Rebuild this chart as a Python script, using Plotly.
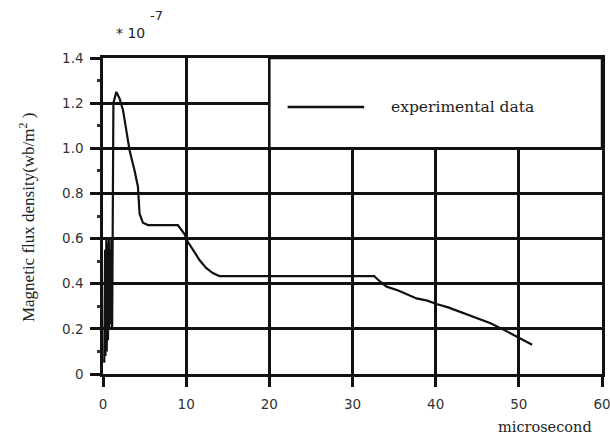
import plotly.graph_objects as go

# ---- data ----
time_us = [0.15, 0.25, 0.3, 0.4, 0.45, 0.55, 0.6, 0.7, 0.75, 0.85, 0.9, 1.0, 1.1,
           1.15, 1.25, 1.6, 2.0, 2.4, 2.8, 3.2, 3.8, 4.2, 4.4, 4.8, 5.4, 7.0,
           9.0, 9.8, 10.2, 11.0, 11.6, 12.4, 13.2, 14.0, 20.0, 26.0, 32.6, 33.3,
           34.1, 35.5, 37.7, 39.0, 40.1, 41.5, 42.6, 44.5, 46.6, 48.5, 50.0, 51.6]
flux = [0.05, 0.55, 0.08, 0.6, 0.1, 0.58, 0.15, 0.6, 0.2, 0.55, 0.22, 0.6, 0.2,
        0.7, 1.2, 1.25, 1.22, 1.17, 1.08, 0.99, 0.90, 0.83, 0.71, 0.67, 0.66, 0.66,
        0.66, 0.62, 0.586, 0.54, 0.505, 0.47, 0.447, 0.434, 0.434, 0.434, 0.434, 0.41,
        0.387, 0.37, 0.335, 0.325, 0.31, 0.295, 0.28, 0.255, 0.225, 0.19, 0.16, 0.13]

x_ticks = [0, 10, 20, 30, 40, 50, 60]
x_tick_labels = ["0", "10", "20", "30", "40", "50", "60"]
y_ticks = [0, 0.2, 0.4, 0.6, 0.8, 1.0, 1.2, 1.4]
y_tick_labels = ["0", "0.2", "0.4", "0.6", "0.8", "1.0", "1.2", "1.4"]

series_name = "experimental data"
legend_box_x = [20, 60]
legend_box_y = [1.0, 1.4]
legend_line_x = [22.2, 31.4]
legend_y = 1.183
legend_text_x = 34.4

fig = go.Figure()
fig.add_trace(go.Scatter(x=time_us, y=flux, mode="lines", name=series_name,
                         line=dict(color="#111", width=2.2), showlegend=False))

# legend box (white panel over the grid) and sample line
fig.add_shape(type="rect", xref="x", yref="y",
              x0=legend_box_x[0], x1=legend_box_x[1], y0=legend_box_y[0], y1=legend_box_y[1],
              fillcolor="white", line=dict(color="#111", width=2.5), layer="above")
fig.add_shape(type="line", xref="x", yref="y",
              x0=legend_line_x[0], x1=legend_line_x[1], y0=legend_y, y1=legend_y,
              line=dict(color="#111", width=2.5), layer="above")
fig.add_annotation(x=legend_text_x, y=legend_y, xref="x", yref="y", text=series_name,
                   showarrow=False, xanchor="left", yanchor="middle",
                   font=dict(family="DejaVu Serif", size=15.5, color="#222"))

axis_common = dict(showline=True, linecolor="#111", linewidth=2.5, mirror=True,
                   showgrid=True, gridcolor="#111", gridwidth=2.5, zeroline=False,
                   ticks="outside", ticklen=10, tickwidth=2.5, tickcolor="#111",
                   automargin=False, ticklabeloverflow="allow",
                   tickfont=dict(family="DejaVu Sans", size=13.5, color="#333"))

fig.update_xaxes(range=[0, 60], tickmode="array", tickvals=x_ticks, ticktext=x_tick_labels,
                 ticklabelstandoff=6, **axis_common)
fig.update_yaxes(range=[0, 1.4], tickmode="array", tickvals=y_ticks, ticktext=y_tick_labels,
                 ticklabelstandoff=4,
                 minor=dict(ticks="outside", dtick=0.1, ticklen=3, tickcolor="#333", showgrid=False),
                 **axis_common)

# axis titles and multiplier
fig.add_annotation(xref="paper", yref="paper", x=-0.152, y=0.494, textangle=-90,
                   text="Magnetic flux density(wb/m<sup>2</sup> )", showarrow=False,
                   xanchor="center", yanchor="middle",
                   font=dict(family="Liberation Serif", size=17, color="#222"))
fig.add_annotation(xref="paper", yref="paper", x=0.886, y=-0.168,
                   text="microsecond", showarrow=False, xanchor="center", yanchor="middle",
                   font=dict(family="DejaVu Serif", size=14.5, color="#222"))
fig.add_annotation(xref="paper", yref="paper", x=0.055, y=1.079,
                   text="* 10", showarrow=False, xanchor="center", yanchor="middle",
                   font=dict(family="DejaVu Sans", size=14, color="#222"))
fig.add_annotation(xref="paper", yref="paper", x=0.107, y=1.136,
                   text="-7", showarrow=False, xanchor="center", yanchor="middle",
                   font=dict(family="DejaVu Sans", size=13, color="#222"))

fig.update_layout(width=610, height=438, margin=dict(l=103, r=8, t=58, b=64),
                  paper_bgcolor="white", plot_bgcolor="white")

fig.write_html("out.html")
